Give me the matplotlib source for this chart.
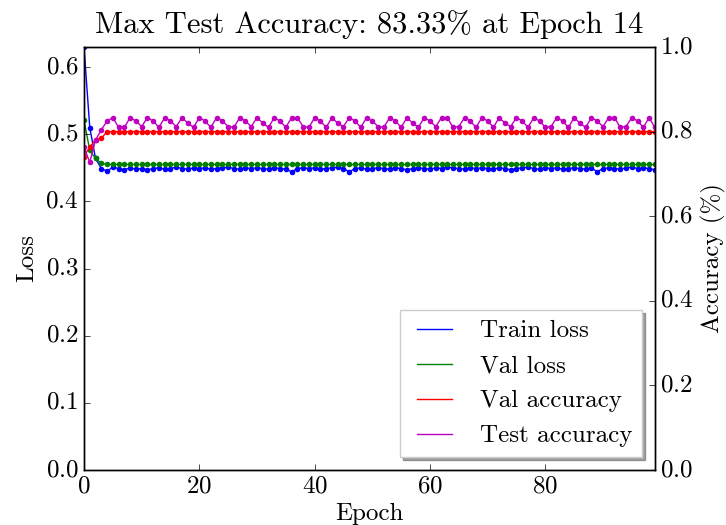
import matplotlib
matplotlib.use("Agg")
import matplotlib.pyplot as plt

plt.style.use('classic')
plt.rcParams['font.family'] = 'serif'
plt.rcParams['font.serif'] = ['cmr10', 'DejaVu Serif']
plt.rcParams['mathtext.fontset'] = 'cm'
plt.rcParams['axes.formatter.use_mathtext'] = True
plt.rcParams['axes.unicode_minus'] = False

title = "Max Test Accuracy: 83.33% at Epoch 14"

train_loss = [
    0.630, 0.510, 0.464, 0.449, 0.445, 0.451, 0.449, 0.447, 0.450, 0.448,
    0.449, 0.447, 0.449, 0.450, 0.448, 0.449, 0.451, 0.449, 0.448, 0.450,
    0.449, 0.450, 0.448, 0.449, 0.450, 0.451, 0.449, 0.448, 0.450, 0.449,
    0.450, 0.449, 0.448, 0.450, 0.449, 0.448, 0.444, 0.449, 0.450, 0.449,
    0.450, 0.448, 0.449, 0.450, 0.451, 0.449, 0.444, 0.449, 0.450, 0.448,
    0.449, 0.450, 0.449, 0.448, 0.450, 0.449, 0.447, 0.449, 0.450, 0.449,
    0.448, 0.450, 0.449, 0.451, 0.450, 0.449, 0.448, 0.450, 0.449, 0.450,
    0.449, 0.448, 0.450, 0.449, 0.447, 0.449, 0.450, 0.451, 0.449, 0.448,
    0.450, 0.449, 0.450, 0.448, 0.449, 0.450, 0.449, 0.448, 0.450, 0.444,
    0.449, 0.450, 0.449, 0.448, 0.450, 0.451, 0.449, 0.450, 0.449, 0.447]

val_loss = [
    0.521, 0.476, 0.464, 0.457, 0.455, 0.455, 0.455, 0.455, 0.455, 0.455,
    0.455, 0.455, 0.455, 0.455, 0.455, 0.455, 0.455, 0.455, 0.455, 0.455,
    0.455, 0.455, 0.455, 0.455, 0.455, 0.455, 0.455, 0.455, 0.455, 0.455,
    0.455, 0.455, 0.455, 0.455, 0.455, 0.455, 0.455, 0.455, 0.455, 0.455,
    0.455, 0.455, 0.455, 0.455, 0.455, 0.455, 0.455, 0.455, 0.455, 0.455,
    0.455, 0.455, 0.455, 0.455, 0.455, 0.455, 0.455, 0.455, 0.455, 0.455,
    0.455, 0.455, 0.455, 0.455, 0.455, 0.455, 0.455, 0.455, 0.455, 0.455,
    0.455, 0.455, 0.455, 0.455, 0.455, 0.455, 0.455, 0.455, 0.455, 0.455,
    0.455, 0.455, 0.455, 0.455, 0.455, 0.455, 0.455, 0.455, 0.455, 0.455,
    0.455, 0.455, 0.455, 0.455, 0.455, 0.455, 0.455, 0.455, 0.455, 0.455]

val_acc = [
    0.741, 0.764, 0.780, 0.784, 0.800, 0.800, 0.800, 0.800, 0.800, 0.800,
    0.800, 0.800, 0.800, 0.800, 0.800, 0.800, 0.800, 0.800, 0.800, 0.800,
    0.800, 0.800, 0.800, 0.800, 0.800, 0.800, 0.800, 0.800, 0.800, 0.800,
    0.800, 0.800, 0.800, 0.800, 0.800, 0.800, 0.800, 0.800, 0.800, 0.800,
    0.800, 0.800, 0.800, 0.800, 0.800, 0.800, 0.800, 0.800, 0.800, 0.800,
    0.800, 0.800, 0.800, 0.800, 0.800, 0.800, 0.800, 0.800, 0.800, 0.800,
    0.800, 0.800, 0.800, 0.800, 0.800, 0.800, 0.800, 0.800, 0.800, 0.800,
    0.800, 0.800, 0.800, 0.800, 0.800, 0.800, 0.800, 0.800, 0.800, 0.800,
    0.800, 0.800, 0.800, 0.800, 0.800, 0.800, 0.800, 0.800, 0.800, 0.800,
    0.800, 0.800, 0.800, 0.800, 0.800, 0.800, 0.800, 0.800, 0.800, 0.800]

test_acc = [
    0.764, 0.727, 0.780, 0.804, 0.825,
    0.833, 0.810, 0.810, 0.833, 0.825,
    0.812, 0.833, 0.825, 0.810, 0.833,
    0.825, 0.812, 0.833, 0.820, 0.810,
    0.833, 0.825, 0.810, 0.833, 0.825,
    0.812, 0.810, 0.833, 0.825, 0.812,
    0.833, 0.820, 0.810, 0.833, 0.825,
    0.810, 0.833, 0.833, 0.812, 0.810,
    0.833, 0.825, 0.810, 0.833, 0.820,
    0.812, 0.833, 0.825, 0.810, 0.833,
    0.825, 0.812, 0.810, 0.833, 0.825,
    0.810, 0.833, 0.820, 0.810, 0.833,
    0.825, 0.812, 0.833, 0.833, 0.810,
    0.812, 0.833, 0.825, 0.810, 0.833,
    0.825, 0.810, 0.833, 0.820, 0.812,
    0.833, 0.825, 0.810, 0.833, 0.825,
    0.810, 0.812, 0.833, 0.825, 0.810,
    0.833, 0.820, 0.810, 0.833, 0.825,
    0.812, 0.833, 0.833, 0.810, 0.812,
    0.833, 0.825, 0.810, 0.833, 0.810]

epochs = list(range(len(train_loss)))

FS = 18
MS = 4
fig = plt.figure(figsize=(7.26, 5.25), dpi=100, facecolor='white')
ax = fig.add_axes([0.1157, 0.1048, 0.7863, 0.8057])
ax.set_facecolor('white')
ax2 = ax.twinx()

l1, = ax.plot(epochs, train_loss, color='b', lw=1, label='Train loss')
ax.plot(epochs, train_loss, ls='none', marker='o', ms=MS, mec='b', mfc='b', mew=0)
l2, = ax.plot(epochs, val_loss, color='g', lw=1, label='Val loss')
ax.plot(epochs, val_loss, ls='none', marker='o', ms=MS, mec='g', mfc='g', mew=0)

l3, = ax2.plot(epochs, val_acc, color='r', lw=1, label='Val accuracy')
ax2.plot(epochs, val_acc, ls='none', marker='o', ms=MS, mec='r', mfc='r', mew=0)
l4, = ax2.plot(epochs, test_acc, color='m', lw=1, label='Test accuracy')
ax2.plot(epochs, test_acc, ls='none', marker='o', ms=MS, mec='m', mfc='m', mew=0)

ax.set_xlim(0, len(epochs) - 1)
ax.set_ylim(0, max(train_loss))
ax2.set_ylim(0, 1.0)
ax.set_xticks([0, 20, 40, 60, 80])
ax.set_yticks([0.0, 0.1, 0.2, 0.3, 0.4, 0.5, 0.6])
ax2.set_yticks([0.0, 0.2, 0.4, 0.6, 0.8, 1.0])
ax.tick_params(labelsize=FS)
ax2.tick_params(labelsize=FS)

ax.set_xlabel('Epoch', fontsize=FS, labelpad=4)
ax.set_ylabel('Loss', fontsize=FS)
ax2.set_ylabel('Accuracy (%)', fontsize=FS)
ax.set_title(title, fontsize=22, y=1.0, pad=10)

leg = ax2.legend(handles=[l1, l2, l3, l4], loc='lower right', fontsize=FS,
                 shadow=True, fancybox=False, numpoints=2)
leg.get_frame().set_edgecolor('#cccccc')

fig.savefig('out.png', dpi=100, facecolor='white')
